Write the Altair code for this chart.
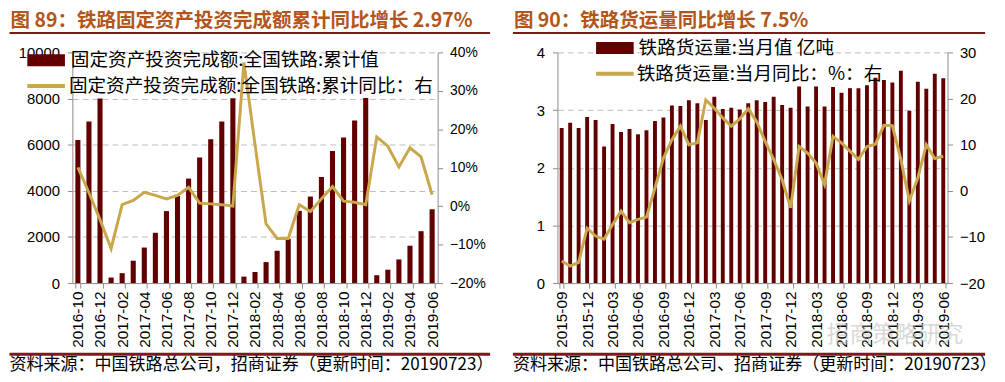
import altair as alt
import pandas as pd

# ---------------- data: left chart (railway FAI, cumulative) ----------------
fai_months = [
    "2016-10", "2016-11", "2016-12", "2017-01", "2017-02", "2017-03", "2017-04",
    "2017-05", "2017-06", "2017-07", "2017-08", "2017-09", "2017-10", "2017-11",
    "2017-12", "2018-01", "2018-02", "2018-03", "2018-04", "2018-05", "2018-06",
    "2018-07", "2018-08", "2018-09", "2018-10", "2018-11", "2018-12", "2019-01",
    "2019-02", "2019-03", "2019-04", "2019-05", "2019-06",
]
fai_values = [6200, 7000, 8000, 240, 430, 970, 1540, 2180, 3120, 3775, 4530,
              5440, 6240, 7010, 8010, 280, 480, 910, 1400, 1920, 3130, 3750,
              4600, 5730, 6310, 7050, 8020, 340, 580, 1025, 1620, 2250, 3200]
fai_yoy = [10.1, 3.5, -3.5, -11.0, 0.4, 1.5, 3.6, 2.8, 1.9, 2.8, 4.9, 0.8, 0.6,
           0.4, 0.0, 37.4, 16.0, -4.6, -8.4, -8.4, 0.4, -1.4, 1.9, 5.1, 1.3,
           1.0, 0.4, 18.0, 15.6, 10.2, 15.2, 12.8, 2.97]
fai_bar_label = "固定资产投资完成额:全国铁路:累计值"
fai_line_label = "固定资产投资完成额:全国铁路:累计同比：右"
fai_title = "图 89：铁路固定资产投资完成额累计同比增长 2.97%"
fai_source = "资料来源：中国铁路总公司，招商证券（更新时间：20190723）"

# ---------------- data: right chart (railway freight, monthly) ----------------
fr_months = [
    "2015-09", "2015-10", "2015-11", "2015-12",
    "2016-01", "2016-02", "2016-03", "2016-04", "2016-05", "2016-06",
    "2016-07", "2016-08", "2016-09", "2016-10", "2016-11", "2016-12",
    "2017-01", "2017-02", "2017-03", "2017-04", "2017-05", "2017-06",
    "2017-07", "2017-08", "2017-09", "2017-10", "2017-11", "2017-12",
    "2018-01", "2018-02", "2018-03", "2018-04", "2018-05", "2018-06",
    "2018-07", "2018-08", "2018-09", "2018-10", "2018-11", "2018-12",
    "2019-01", "2019-02", "2019-03", "2019-04", "2019-05", "2019-06",
]
fr_values = [2.69, 2.78, 2.69, 2.88, 2.83, 2.37, 2.76, 2.62, 2.67, 2.58, 2.65,
             2.81, 2.87, 3.08, 3.07, 3.17, 3.12, 2.83, 3.23, 3.02, 3.04, 3.01,
             3.12, 3.17, 3.14, 3.23, 3.09, 3.04, 3.41, 3.06, 3.41, 3.06, 3.40,
             3.30, 3.38, 3.38, 3.43, 3.56, 3.52, 3.48, 3.68, 2.99, 3.49, 3.37,
             3.63, 3.55]
fr_yoy = [-15.2, -16.3, -15.5, -8.1, -9.8, -10.5, -7.3, -4.4, -6.9, -6.2, -5.7,
          0.6, 7.1, 11.1, 14.0, 10.0, 10.4, 19.7, 17.9, 15.8, 14.0, 15.6, 17.8,
          15.0, 10.7, 6.8, 2.4, -3.7, 9.6, 8.2, 6.0, 1.4, 11.8, 10.4, 8.6, 6.8,
          9.6, 10.1, 14.2, 14.1, 6.8, -2.2, 2.8, 10.0, 7.0, 7.5]
fr_bar_label = "铁路货运量:当月值 亿吨"
fr_line_label = "铁路货运量:当月同比：%：右"
fr_title = "图 90：铁路货运量同比增长 7.5%"
fr_source = "资料来源：中国铁路总公司、招商证券（更新时间：20190723）"
watermark = "招商策略研究"

# ---------------- styling ----------------
BAR = "#620000"
LINE = "#C9A74C"
TITLE_C = "#B2561C"
RULE_C = "#7B1A1A"
AXIS_C = "#8C8C8C"
CJK = "Noto Sans CJK SC"
NUM = "Liberation Sans"
LEG_FS = 18.8


def one():
    return alt.Data(values=[{"k": 0}])


def panel(months, values, yoy, bar_label, line_label, title, source,
          w, h, left_dom, left_step, right_dom, right_step, right_pct,
          xstep, geo):
    df = pd.DataFrame({"month": months, "value": values, "yoy": yoy,
                       "bs": bar_label, "ls": line_label})
    x = alt.X("month:O", sort=None,
              scale=alt.Scale(paddingInner=0.54, paddingOuter=0.27),
              axis=alt.Axis(values=months[::xstep], labelAngle=270,
                            labelFont=NUM, labelFontSize=15.5, labelColor="#000",
                            labelPadding=3, tickSize=5, tickColor=AXIS_C,
                            domainColor=AXIS_C, tickBand="extent",
                            grid=False, title=None))
    base = alt.Chart(df)
    bars = base.mark_bar().encode(
        x=x,
        y=alt.Y("value:Q", scale=alt.Scale(domain=left_dom, nice=False),
                axis=alt.Axis(values=list(range(left_dom[0], left_dom[1] + 1, left_step)),
                              orient="left", format="d", labelFont=NUM,
                              labelFontSize=15, labelColor="#000",
                              labelPadding=8, tickSize=5,
                              tickColor=AXIS_C, domainColor=AXIS_C, grid=True,
                              gridColor="#BDBDBD", gridDash=[6, 4], title=None)),
        fill=alt.Fill("bs:N", scale=alt.Scale(range=[BAR]),
                      legend=alt.Legend(orient="none", legendX=geo["lx"],
                                        legendY=geo["ly1"], title=None,
                                        symbolType="M-1,-0.32H1V0.32H-1Z",
                                        symbolSize=1444, symbolStrokeWidth=0,
                                        labelFont=CJK, labelFontSize=LEG_FS,
                                        labelColor="#000", labelLimit=700,
                                        labelOffset=geo["lo"], padding=0)),
    )
    rlabel = "datum.label + '%'" if right_pct else "datum.label"
    line = base.mark_line(strokeWidth=3).encode(
        x=x,
        y=alt.Y("yoy:Q", scale=alt.Scale(domain=right_dom, nice=False),
                axis=alt.Axis(values=list(range(right_dom[0], right_dom[1] + 1, right_step)),
                              orient="right", format="d", labelExpr=rlabel,
                              labelFont=NUM, labelFontSize=geo["rfs"],
                              labelColor="#000", labelPadding=7, tickSize=5,
                              tickColor=AXIS_C, domainColor=AXIS_C, grid=False,
                              title=None)),
        stroke=alt.Stroke("ls:N", scale=alt.Scale(range=[LINE]),
                          legend=alt.Legend(orient="none", legendX=geo["lx"] - 2,
                                            legendY=geo["ly2"], title=None,
                                            symbolType="stroke", symbolSize=1444,
                                            symbolStrokeWidth=4,
                                            labelFont=CJK, labelFontSize=LEG_FS,
                                            labelColor="#000", labelLimit=700,
                                            labelOffset=geo["lo"] - 4, padding=0)),
    )
    x0, x1 = geo["x0"], geo["x1"]
    ttl = alt.Chart(one()).mark_text(
        text=title, align="left", baseline="middle", font=CJK,
        fontSize=19.7, fontWeight="bold", color=TITLE_C
    ).encode(x=alt.value(x0 + 1), y=alt.value(geo["ty"]))
    ul = alt.Chart(one()).mark_rule(color=RULE_C, strokeWidth=2).encode(
        x=alt.value(x0), x2=alt.value(x1), y=alt.value(geo["uy"]))
    fl = alt.Chart(one()).mark_rule(color=RULE_C, strokeWidth=3).encode(
        x=alt.value(x0), x2=alt.value(x1), y=alt.value(geo["fy"]))
    src = alt.Chart(one()).mark_text(
        text=source, align="left", baseline="middle", font=CJK,
        fontSize=17.2, color="#000"
    ).encode(x=alt.value(x0), y=alt.value(geo["sy"]))
    layers = [bars, line, ttl, ul, fl, src]
    if geo.get("wm"):
        wm = alt.Chart(one()).mark_text(
            text=watermark, align="center", baseline="middle", font=CJK,
            fontSize=23, color="#BBBBBB", opacity=0.55
        ).encode(x=alt.value(geo["wmx"]), y=alt.value(geo["wmy"]))
        layers.append(wm)
    return alt.layer(*layers).resolve_scale(
        y="independent", fill="independent", stroke="independent"
    ).properties(width=w, height=h)


common = dict(ty=-32.1, uy=-19.5, fy=305, sy=315.4)
left = panel(fai_months, fai_values, fai_yoy, fai_bar_label, fai_line_label,
             fai_title, fai_source, 369, 233, [0, 10000], 2000, [-20, 40], 10,
             True, 2,
             dict(lx=-45.5, ly1=-11, ly2=13, lo=6, rfs=14, x0=-63.5, x1=422,
                  **common))
right = panel(fr_months, fr_values, fr_yoy, fr_bar_label, fr_line_label,
              fr_title, fr_source, 394, 233, [0, 4], 1, [-20, 30], 10,
              False, 3,
              dict(lx=39, ly1=-23.5, ly2=0.5, lo=5, rfs=15, x0=-45, x1=432,
                   wm=True, wmx=341, wmy=286, **common))

chart = alt.hconcat(left, right, spacing=17).properties(
    padding=0, background="white"
).configure_view(stroke=None)

chart.save("out.html", embed_options={"renderer": "svg", "actions": False})
